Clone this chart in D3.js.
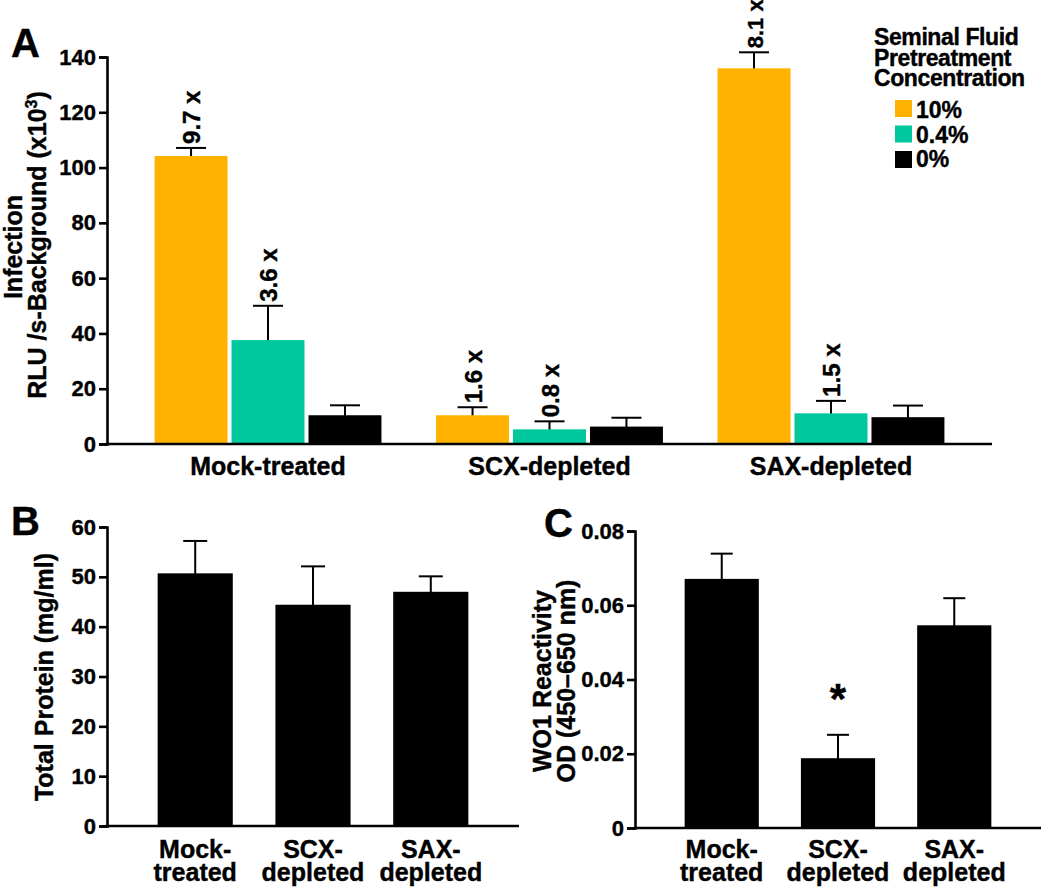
<!DOCTYPE html>
<html><head><meta charset="utf-8">
<script src="https://cdn.jsdelivr.net/npm/d3@7"></script>
<style>body{margin:0;background:#fff}svg text{font-family:"Liberation Sans",Arial,Helvetica,sans-serif;font-weight:bold;fill:#000;stroke:#000;stroke-width:0.4px}</style>
</head><body>
<svg id="c" width="1050" height="888"></svg>
<script>
// ---- Data ----
const categoriesA = ["Mock-treated", "SCX-depleted", "SAX-depleted"];
const seriesA = ["10%", "0.4%", "0%"];
const colorsA = ["#FFB300", "#00C89E", "#000000"];
const values10 = [104.2, 10.4, 135.9];
const errors10 = [107.1, 13.3, 141.7];
const values04 = [37.6, 5.3, 11.1];
const errors04 = [50.0, 8.2, 15.6];
const values0 = [10.4, 6.3, 9.7];
const errors0 = [14.0, 9.5, 13.9];
const foldLabels10 = ["9.7 x", "1.6 x", "8.1 x"];
const foldLabels04 = ["3.6 x", "0.8 x", "1.5 x"];
const ticksA = [0, 20, 40, 60, 80, 100, 120, 140];

const categoriesBC = [["Mock-", "treated"], ["SCX-", "depleted"], ["SAX-", "depleted"]];
const valuesB = [50.7, 44.4, 47.0];
const errorsB = [57.2, 52.1, 50.1];
const ticksB = [0, 10, 20, 30, 40, 50, 60];
const valuesC = [0.0671, 0.0188, 0.0546];
const errorsC = [0.0739, 0.0251, 0.0619];
const ticksC = [0, 0.02, 0.04, 0.06, 0.08];
const tickLabelsC = ["0", "0.02", "0.04", "0.06", "0.08"];

const svg = d3.select("#c");
const seriesVals = [values10, values04, values0];
const seriesErr = [errors10, errors04, errors0];
const seriesLab = [foldLabels10, foldLabels04, null];

function yAxis(g, y, ticks, fmt, x0) {
  const ax = g.append("g").attr("transform", `translate(${x0},0)`)
    .call(d3.axisLeft(y).tickValues(ticks).tickSize(8).tickPadding(3).tickFormat(fmt));
  ax.select(".domain").attr("stroke", "#000").attr("stroke-width", 2.6);
  ax.selectAll(".tick line").attr("stroke", "#000").attr("stroke-width", 2.6);
  ax.selectAll(".tick text").attr("font-size", 22).attr("font-weight", "bold")
    .attr("font-family", '"Liberation Sans",Arial,sans-serif').attr("fill", "#000");
  return ax;
}
function xLine(g, x0, x1, yv) {
  g.append("line").attr("x1", x0 - 1.3).attr("x2", x1).attr("y1", yv).attr("y2", yv)
    .attr("stroke", "#000").attr("stroke-width", 2.6);
}
function errBar(g, cx, y0, y1, w) {
  g.append("line").attr("x1", cx).attr("x2", cx).attr("y1", y0).attr("y2", y1).attr("stroke", "#000").attr("stroke-width", 2);
  g.append("line").attr("x1", cx - w / 2).attr("x2", cx + w / 2).attr("y1", y1).attr("y2", y1).attr("stroke", "#000").attr("stroke-width", 2);
}

// ---- Panel A ----
const gA = svg.append("g");
const yA = d3.scaleLinear().domain([0, 140]).range([444, 57]);
const xA = d3.scaleBand().domain(categoriesA).range([107, 992]).paddingInner(0.194).paddingOuter(0.169);
const xAs = d3.scaleBand().domain(seriesA).range([0, xA.bandwidth()]).paddingInner(0.052);

seriesA.forEach((s, si) => {
  categoriesA.forEach((c, ci) => {
    const x = xA(c) + xAs(s), w = xAs.bandwidth(), cx = x + w / 2;
    const v = seriesVals[si][ci], e = seriesErr[si][ci];
    errBar(gA, cx, yA(v) + 1, yA(e), 30);
    gA.append("rect").attr("x", x).attr("y", yA(v)).attr("width", w).attr("height", yA(0) - yA(v)).attr("fill", colorsA[si]);
    if (seriesLab[si]) {
      gA.append("text").attr("transform", `translate(${cx + 9},${yA(e) - 4}) rotate(-90)`)
        .attr("font-size", ci === 2 && si === 0 ? 22 : 24).text(seriesLab[si][ci]);
    }
  });
});
yAxis(gA, yA, ticksA, d3.format("d"), 107);
xLine(gA, 107, 992, yA(0));
categoriesA.forEach(c => {
  gA.append("text").attr("x", xA(c) + xA.bandwidth() / 2).attr("y", 475).attr("text-anchor", "middle")
    .attr("font-size", 25).text(c);
});
gA.append("text").attr("x", 11).attr("y", 57).attr("font-size", 40).text("A");
gA.append("text").attr("transform", "translate(22,247) rotate(-90)").attr("text-anchor", "middle").attr("font-size", 25).text("Infection");
const tA = gA.append("text").attr("transform", "translate(46,245) rotate(-90)").attr("text-anchor", "middle").attr("font-size", 25);
tA.append("tspan").text("RLU /s-Background (x10");
tA.append("tspan").attr("font-size", 16).attr("dy", -9).text("3");
tA.append("tspan").attr("dy", 9).text(")");

// Legend
const lg = svg.append("g");
["Seminal Fluid", "Pretreatment", "Concentration"].forEach((t, i) => {
  lg.append("text").attr("x", 874).attr("y", 45 + i * 20.5).attr("font-size", 23).attr("letter-spacing", -0.4).text(t);
});
seriesA.forEach((s, i) => {
  lg.append("rect").attr("x", 895).attr("y", 100 + i * 25.5).attr("width", 17).attr("height", 17).attr("fill", colorsA[i]);
  lg.append("text").attr("x", 916).attr("y", 118 + i * 24.5).attr("font-size", 23).text(s);
});

// ---- Panels B and C ----
function smallPanel(x0, x1, y, vals, errs, ticks, fmt, cap, po) {
  const g = svg.append("g");
  const x = d3.scaleBand().domain(d3.range(vals.length)).range([x0, x1]).paddingInner(0.362).paddingOuter(po);
  vals.forEach((v, i) => {
    const cx = x(i) + x.bandwidth() / 2;
    errBar(g, cx, y(v) + 1, y(errs[i]), cap);
    g.append("rect").attr("x", x(i)).attr("y", y(v)).attr("width", x.bandwidth()).attr("height", y(0) - y(v)).attr("fill", "#000");
    const t = g.append("text").attr("x", cx).attr("y", 858).attr("text-anchor", "middle").attr("font-size", 25);
    categoriesBC[i].forEach((s, li) => {
      t.append("tspan").attr("x", cx).attr("dy", li === 0 ? 0 : 22.5).text(s);
    });
  });
  yAxis(g, y, ticks, fmt, x0);
  xLine(g, x0, x1, y(0));
  return {g, x};
}
const yB = d3.scaleLinear().domain([0, 60]).range([826, 527]);
const pB = smallPanel(107, 519, yB, valuesB, errorsB, ticksB, d3.format("d"), 24, 0.43);
pB.g.append("text").attr("x", 11).attr("y", 535).attr("font-size", 40).text("B");
pB.g.append("text").attr("transform", "translate(53,677) rotate(-90)").attr("text-anchor", "middle").attr("font-size", 25).text("Total Protein (mg/ml)");

const yC = d3.scaleLinear().domain([0, 0.08]).range([828, 531]);
const pC = smallPanel(635, 1041, yC, valuesC, errorsC, ticksC, (d) => tickLabelsC[ticksC.indexOf(d)], 22, 0.427);
pC.g.append("text").attr("x", 544).attr("y", 537).attr("font-size", 40).text("C");
pC.g.append("text").attr("transform", "translate(551,681) rotate(-90)").attr("text-anchor", "middle").attr("font-size", 25).text("WO1 Reactivity");
pC.g.append("text").attr("transform", "translate(575,681) rotate(-90)").attr("text-anchor", "middle").attr("font-size", 25).text("OD (450\u2013650 nm)");
pC.g.append("text").attr("x", pC.x(1) + pC.x.bandwidth() / 2).attr("y", 713).attr("text-anchor", "middle").attr("font-size", 42).text("*");
</script>
</body></html>
